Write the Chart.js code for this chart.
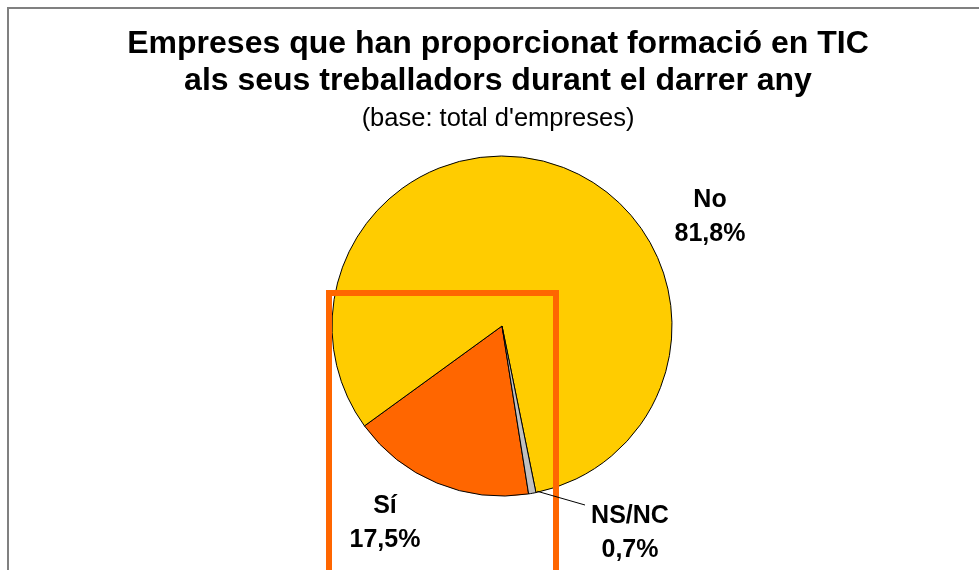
<!DOCTYPE html>
<html>
<head>
<meta charset="utf-8">
<script src="https://cdn.jsdelivr.net/npm/chart.js@4"></script>
<style>
    body { margin: 0; background: #fff; }
    canvas { display: block; }
</style>
</head>
<body>
<canvas id="pieChart" width="979" height="570"></canvas>
<script>
const categories = ['Sí', 'No', 'NS/NC'];
const values = [17.5, 81.8, 0.7];
const valueLabels = ['17,5%', '81,8%', '0,7%'];
const sliceColors = ['#FF6600', '#FFCC00', '#C0C0C0'];

const titleLines = ['Empreses que han proporcionat formació en TIC', 'als seus treballadors durant el darrer any'];
const subtitleText = "(base: total d'empreses)";

// label placement, offsets from the pie centre (x, y of the first line baseline)
const labelOffsets = [[-117, 187], [208, -119], [128, 197]];

const framePlugin = {
    id: 'frame',
    beforeDraw(chart) {
        const c = chart.ctx;
        c.save();
        c.fillStyle = '#fff';
        c.fillRect(0, 0, chart.width, chart.height);
        c.strokeStyle = '#808080';
        c.lineWidth = 2;
        c.beginPath();
        c.moveTo(8, chart.height + 5);
        c.lineTo(8, 8);
        c.lineTo(chart.width + 5, 8);
        c.stroke();
        c.restore();
    }
};

const textPlugin = {
    id: 'texts',
    afterDraw(chart) {
        const c = chart.ctx;
        const arcs = chart.getDatasetMeta(0).data;
        const cx = arcs[0].x, cy = arcs[0].y;
        c.save();
        c.fillStyle = '#000';
        c.textAlign = 'center';
        c.textBaseline = 'alphabetic';

        // titles
        c.font = 'bold 32px "Liberation Sans", Arial, sans-serif';
        c.fillText(titleLines[0], 498, 53);
        c.fillText(titleLines[1], 498, 90);
        c.font = '25.5px "Liberation Sans", Arial, sans-serif';
        c.fillText(subtitleText, 498, 126);

        // orange highlight box
        c.strokeStyle = '#FF6600';
        c.lineWidth = 6;
        c.beginPath();
        c.moveTo(329, chart.height + 10);
        c.lineTo(329, 293);
        c.lineTo(556, 293);
        c.lineTo(556, chart.height + 10);
        c.stroke();

        // leader line for the small slice
        const small = arcs[2];
        const mid = (small.startAngle + small.endAngle) / 2;
        c.strokeStyle = '#000';
        c.lineWidth = 1;
        c.beginPath();
        c.moveTo(cx + Math.cos(mid) * small.outerRadius + 5, cy + Math.sin(mid) * small.outerRadius - 2);
        c.lineTo(cx + labelOffsets[2][0] - 45, cy + labelOffsets[2][1] - 18);
        c.stroke();

        // slice labels
        c.font = 'bold 25px "Liberation Sans", Arial, sans-serif';
        categories.forEach((name, i) => {
            const lx = cx + labelOffsets[i][0];
            const ly = cy + labelOffsets[i][1];
            c.fillText(name, lx, ly);
            c.fillText(valueLabels[i], lx, ly + 34);
        });
        c.restore();
    }
};

const ctx = document.getElementById('pieChart').getContext('2d');
const pieChart = new Chart(ctx, {
    type: 'pie',
    data: {
        labels: categories,
        datasets: [{
            data: values,
            backgroundColor: sliceColors,
            borderColor: '#000',
            borderWidth: 1
        }]
    },
    options: {
        responsive: false,
        animation: false,
        rotation: 171,
        radius: 170,
        layout: { padding: { left: 130, right: 105, top: 140, bottom: 58 } },
        plugins: {
            legend: { display: false },
            tooltip: { enabled: false },
            title: { display: false }
        }
    },
    plugins: [framePlugin, textPlugin]
});
</script>
</body>
</html>
